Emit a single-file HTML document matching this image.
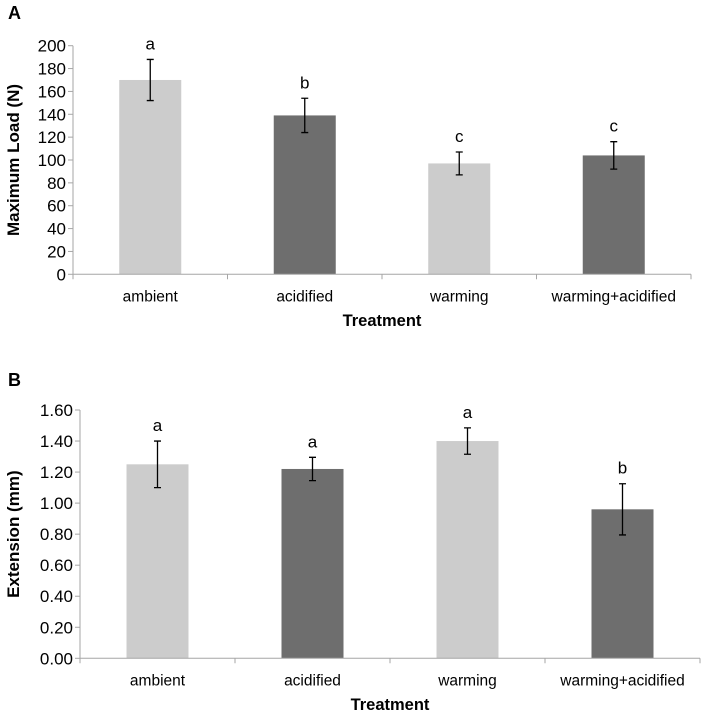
<!DOCTYPE html>
<html><head><meta charset="utf-8"><style>
body{margin:0;background:#fff;}
svg text{font-family:"Liberation Sans",Arial,sans-serif;fill:#000;}
</style></head><body>
<svg id="s" width="703" height="715" xmlns="http://www.w3.org/2000/svg"></svg>
<script>
const categories = ["ambient","acidified","warming","warming+acidified"];
const loadValues = [170,139,97,104];
const loadErr = [18,15,10,12];
const loadLetters = ["a","b","c","c"];
const loadTicks = [0,20,40,60,80,100,120,140,160,180,200];
const extValues = [1.25,1.22,1.40,0.96];
const extErr = [0.15,0.075,0.085,0.165];
const extLetters = ["a","a","a","b"];
const extTicks = [0,0.2,0.4,0.6,0.8,1.0,1.2,1.4,1.6];
const colors = ["#cccccc","#6e6e6e","#cccccc","#6e6e6e"];

const svg=document.getElementById('s');
const NS="http://www.w3.org/2000/svg";
function mk(tag,attrs,parent){const e=document.createElementNS(NS,tag);for(const k in attrs)e.setAttribute(k,attrs[k]);(parent||svg).appendChild(e);return e;}

function chart(o){
  const g=mk('g',{});
  
  
  const y=v=>o.y0-(v-o.min)/(o.max-o.min)*(o.y0-o.y1);
  const cw=(o.x1-o.x0)/o.cats.length;
  const xc=i=>o.x0+cw*(i+0.5);
  const p=mk('text',{x:o.panelX,y:o.panelY,'font-size':18,'font-weight':'bold'},g);p.textContent=o.panel;
  
  
  o.vals.forEach((v,i)=>{
    const r=mk('rect',{x:xc(i)-31,y:y(v),width:62,height:o.y0-y(v),fill:colors[i]},g);
    
    
    const hi=y(v+o.err[i]),lo=y(v-o.err[i]),cx=xc(i);
    const eb=mk('path',{d:`M${cx},${hi}V${lo}M${cx-3.5},${hi}H${cx+3.5}M${cx-3.5},${lo}H${cx+3.5}`,stroke:'#000','stroke-width':1.3,fill:'none'},g);
    
    
    const t=mk('text',{x:cx,y:hi-10,'font-size':17,'text-anchor':'middle'},g);t.textContent=o.letters[i];
    
    
    const c=mk('text',{x:cx,y:o.y0+27,'font-size':15.5,'text-anchor':'middle'},g);c.textContent=o.cats[i];
    
    
  });
  mk('line',{x1:o.x0,y1:o.y1,x2:o.x0,y2:o.y0,stroke:'#a6a6a6','stroke-width':1},g);
  mk('line',{x1:o.x0,y1:o.y0,x2:o.x1,y2:o.y0,stroke:'#a6a6a6','stroke-width':1},g);
  for(let i=0;i<=o.cats.length;i++){const x=o.x0+cw*i;mk('line',{x1:x,y1:o.y0,x2:x,y2:o.y0+5,stroke:'#a6a6a6'},g);}
  o.ticks.forEach(v=>{
    mk('line',{x1:o.x0-5,y1:y(v),x2:o.x0,y2:y(v),stroke:'#a6a6a6'},g);
    const t=mk('text',{x:o.x0-7,y:y(v)+6,'font-size':17,'text-anchor':'end'},g);t.textContent=o.fmt(v);
    
    
  });
  const xt=mk('text',{x:(o.x0+o.x1)/2,y:o.xtY,'font-size':16.5,'font-weight':'bold','text-anchor':'middle'},g);xt.textContent='Treatment';
  
  
  const cy=(o.y0+o.y1)/2;
  const yt=mk('text',{x:0,y:0,'font-size':17,'font-weight':'bold','text-anchor':'middle',transform:`translate(${o.ytX},${cy}) rotate(-90)`},g);yt.textContent=o.ytitle;
  
  
}
chart({name:'chart-a-maximum-load',panel:'A',panelX:8,panelY:19,cats:categories,vals:loadValues,err:loadErr,letters:loadLetters,ticks:loadTicks,min:0,max:200,x0:73,x1:691,y0:274.3,y1:45.7,xtY:326,ytX:19,ytitle:'Maximum Load (N)',fmt:v=>String(v)});
chart({name:'chart-b-extension',panel:'B',panelX:8,panelY:386,cats:categories,vals:extValues,err:extErr,letters:extLetters,ticks:extTicks,min:0,max:1.6,x0:80,x1:700,y0:658.3,y1:410,xtY:710,ytX:19,ytitle:'Extension (mm)',fmt:v=>v.toFixed(2)});
</script>
</body></html>
